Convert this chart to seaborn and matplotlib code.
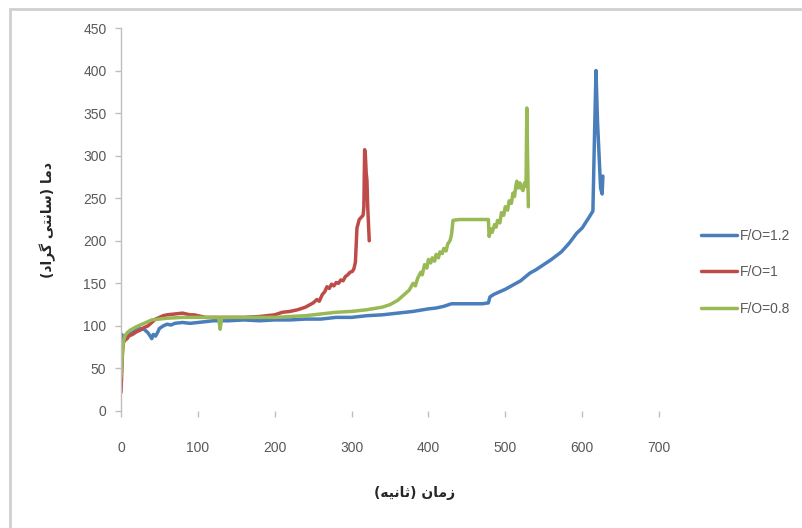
import numpy as np
import pandas as pd
import matplotlib
matplotlib.use("Agg")
import matplotlib.pyplot as plt
from matplotlib.patches import Rectangle
from matplotlib.lines import Line2D
import seaborn as sns

# ---- data ----
series_labels = ["F/O=1.2", "F/O=1", "F/O=0.8"]

t_blue = [0, 1, 2, 4, 6, 8, 10, 15, 20, 25, 30, 35, 38, 40, 42, 45, 48, 50, 55, 60, 65, 70, 80, 90,
          100, 110, 120, 140, 160, 180, 200, 220, 240, 260, 280, 300, 320, 340, 360, 380, 400, 410,
          420, 430, 440, 450, 460, 470, 478, 480, 485, 490, 500, 510, 520, 532, 540, 550, 560, 573,
          583, 593, 600, 605, 610, 614, 616, 618, 620, 624, 626, 627]
y_blue = [80, 90, 88, 85, 86, 88, 90, 92, 95, 97, 96, 92, 88, 85, 90, 88, 93, 97, 100, 102, 101, 103,
          104, 103, 104, 105, 106, 106, 107, 106, 107, 107, 108, 108, 110, 110, 112, 113, 115, 117,
          120, 121, 123, 126, 126, 126, 126, 126, 127, 134, 137, 139, 143, 148, 153, 162, 166, 172,
          178, 187, 197, 209, 215, 222, 229, 235, 320, 400, 340, 262, 255, 276]

t_red = [0, 1, 2, 3, 5, 8, 10, 15, 20, 25, 30, 35, 40, 45, 50, 55, 60, 70, 80, 90, 95, 100, 110,
         120, 140, 160, 180, 200, 210, 220, 230, 240, 250, 255, 258, 262, 265, 268, 271, 274, 277,
         280, 283, 286, 289, 292, 295, 298, 301, 303, 305, 307, 310, 313, 315, 316, 317, 318, 319,
         320, 321, 323]
y_red = [22, 45, 70, 80, 83, 85, 88, 90, 93, 95, 98, 100, 104, 108, 110, 112, 113, 114, 115, 113,
         113, 112, 110, 110, 110, 110, 111, 113, 116, 117, 119, 122, 127, 131, 129, 137, 140, 146,
         144, 149, 147, 151, 150, 154, 153, 158, 160, 163, 164, 167, 175, 215, 225, 228, 230, 240,
         307, 300, 280, 271, 240, 200]

t_green = [0, 1, 2, 3, 5, 8, 12, 16, 20, 25, 30, 35, 40, 50, 60, 80, 100, 120, 127, 129, 131, 140,
           160, 180, 200, 220, 240, 260, 280, 300, 320, 340, 350, 360, 370, 375, 380, 383, 386, 390,
           392, 395, 398, 400, 403, 405, 408, 410, 413, 415, 418, 420, 423, 425, 428, 430, 432, 440,
           450, 460, 470, 478, 479, 481, 483, 486, 488, 490, 493, 495, 498, 500, 503, 505, 508, 510,
           512, 514, 515, 517, 519, 521, 523, 525, 526, 527, 528, 529, 530]
y_green = [40, 55, 70, 80, 88, 92, 95, 97, 99, 101, 103, 105, 107, 108, 109, 110, 110, 110, 110, 96,
           110, 110, 110, 110, 110, 111, 112, 114, 116, 117, 119, 122, 125, 130, 138, 142, 150, 147,
           156, 163, 160, 172, 168, 178, 174, 180, 176, 184, 180, 187, 185, 191, 188, 196, 200, 207,
           224, 225, 225, 225, 225, 225, 205, 214, 210, 219, 216, 224, 221, 233, 230, 240, 236, 247,
           244, 256, 252, 266, 270, 262, 268, 262, 259, 268, 264, 265, 356, 300, 240]

x_ticks = [0, 100, 200, 300, 400, 500, 600, 700]
y_ticks = [0, 50, 100, 150, 200, 250, 300, 350, 400, 450]

# Persian axis titles, pre-shaped (Arabic presentation forms, visual order)
# "زمان (ثانیه)"
x_title = "(\uFEEA\uFEF4\uFEE7\uFE8E\uFE9B) \uFEE5\uFE8E\uFEE3\uFEAF"
# "دما (سانتی گراد)"
y_title = "(\uFEA9\uFE8D\uFEAE\uFB94 \uFEF0\uFE98\uFEE7\uFE8E\uFEB3) \uFE8E\uFEE3\uFEA9"

colors = {"F/O=1.2": "#4A7EBB", "F/O=1": "#BE4B48", "F/O=0.8": "#98B954"}

frames = []
for lab, tt, yy in zip(series_labels, [t_blue, t_red, t_green], [y_blue, y_red, y_green]):
    frames.append(pd.DataFrame({"t": tt, "y": yy, "series": lab}))
df = pd.concat(frames, ignore_index=True)

sns.set_theme(style="white")
plt.rcParams["font.family"] = ["Liberation Sans", "DejaVu Sans"]

fig = plt.figure(figsize=(8.03, 5.28), dpi=100)
ax = fig.add_axes([121 / 803, 1 - 411 / 528, 538 / 803, 383 / 528])

sns.lineplot(data=df, x="t", y="y", hue="series", units="series", estimator=None, sort=False,
             palette=colors, hue_order=series_labels, linewidth=2.5, ax=ax, legend=False)

ax.set_xlim(0, 700)
ax.set_ylim(0, 450)
ax.set_xticks(x_ticks)
ax.set_yticks(y_ticks)
ax.set_xticklabels([str(v) for v in x_ticks])
ax.set_yticklabels([str(v) for v in y_ticks])

for s in ["top", "right", "bottom"]:
    ax.spines[s].set_visible(False)
ax.spines["left"].set_color("#BFBFBF")
ax.spines["left"].set_linewidth(1.0)
ax.tick_params(axis="y", direction="out", length=4.5, width=1, color="#BFBFBF",
               labelsize=10, labelcolor="#595959", pad=6, left=True)
ax.tick_params(axis="x", direction="out", length=4.5, width=1, color="#BFBFBF",
               labelsize=10, labelcolor="#595959", pad=17, bottom=True)

ax.set_xlabel("")
ax.set_ylabel("")
fig.text(415 / 803, 1 - 493 / 528, x_title, ha="center", va="center", fontsize=10,
         fontweight="bold", family=["DejaVu Sans"], color="#262626")
fig.text(48 / 803, 1 - 220 / 528, y_title, ha="center", va="center", rotation=90, fontsize=10,
         fontweight="bold", family=["DejaVu Sans"], color="#262626")

handles = [Line2D([0], [0], color=colors[l], lw=2.5) for l in series_labels]
leg = fig.legend(handles, series_labels, loc="upper left", bbox_to_anchor=(695 / 803, 1 - 223 / 528),
                 frameon=False, fontsize=10, labelcolor="#595959", handlelength=2.6,
                 handletextpad=0.2, labelspacing=1.62, borderaxespad=0)

fig.patches.append(Rectangle((10 / 803, -0.05), 1.2, 1 - 9 / 528 + 0.05, transform=fig.transFigure,
                             fill=False, edgecolor="#D0D0D0", linewidth=2, zorder=0))

fig.savefig("out.png", dpi=100, facecolor="white")
